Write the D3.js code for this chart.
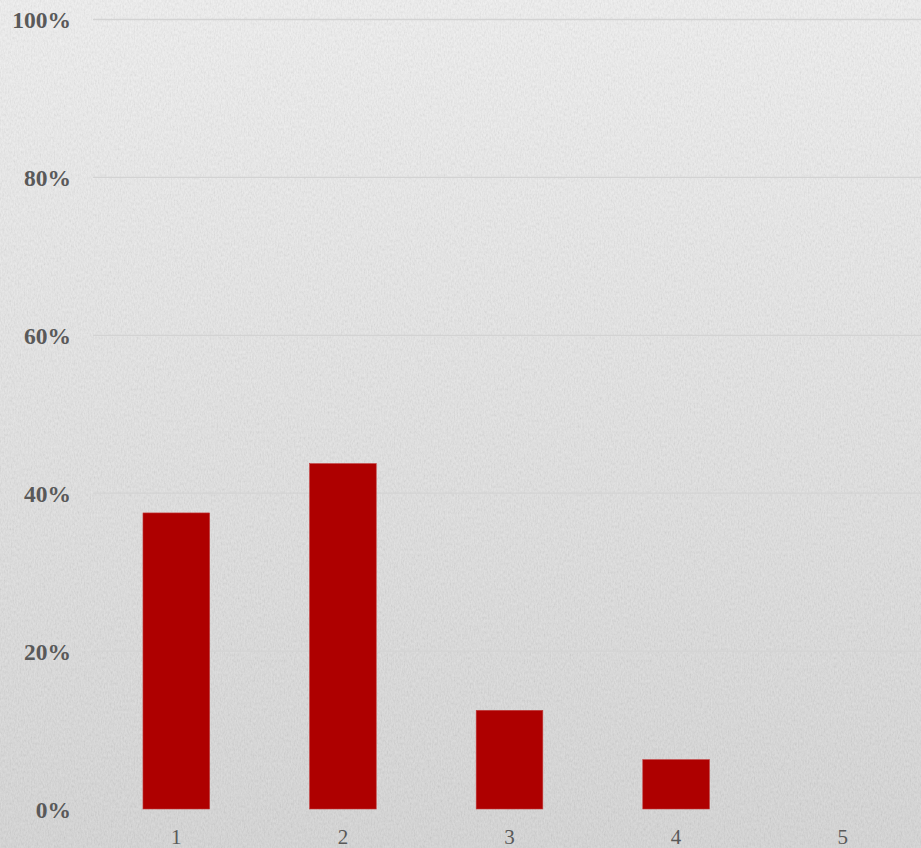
<!DOCTYPE html>
<html><head><meta charset="utf-8">
<script src="https://cdn.jsdelivr.net/npm/d3@7"></script>
<style>html,body{margin:0;padding:0;overflow:hidden;background:#e6e6e6}</style>
</head><body>
<script>
const categories = ["1","2","3","4","5"];
const values = [37.5, 43.75, 12.5, 6.25, 0];
const yTicks = [0, 20, 40, 60, 80, 100];

const W = 921, H = 848;
const svg = d3.select("body").append("svg").attr("width", W).attr("height", H);
const defs = svg.append("defs");
const grad = defs.append("linearGradient").attr("id","bg").attr("x1",0).attr("y1",0).attr("x2",0).attr("y2",1);
grad.append("stop").attr("offset","0%").attr("stop-color","#f1f1f1");
grad.append("stop").attr("offset","100%").attr("stop-color","#d6d6d6");
const filt = defs.append("filter").attr("id","noise").attr("x",0).attr("y",0).attr("width","100%").attr("height","100%");
filt.append("feTurbulence").attr("type","fractalNoise").attr("baseFrequency","0.7 0.35").attr("numOctaves",2).attr("seed",3).attr("result","t");
filt.append("feColorMatrix").attr("in","t").attr("type","matrix")
  .attr("values","1 0 0 0 0  1 0 0 0 0  1 0 0 0 0  0 0 0 0 0.14");
svg.append("rect").attr("width",W).attr("height",H).attr("fill","url(#bg)");
svg.append("rect").attr("width",W).attr("height",H).attr("filter","url(#noise)");

const x = d3.scaleBand().domain(categories).range([93, 926]).paddingInner(0.6).paddingOuter(0.3);
const y = d3.scaleLinear().domain([0,100]).range([809, 19.5]);

// gridlines
svg.append("g").selectAll("line").data(yTicks.filter(d=>d>0)).join("line")
  .attr("x1",93).attr("x2",W).attr("y1",d=>y(d)).attr("y2",d=>y(d))
  .attr("stroke","#d3d3d3").attr("stroke-width",1.3);

// y axis
const yAxis = d3.axisLeft(y).tickValues(yTicks).tickFormat(d=>d+"%").tickSize(0).tickPadding(0);
const gy = svg.append("g").attr("transform","translate(71,0)").call(yAxis);
gy.select(".domain").remove();
gy.selectAll("text").attr("font-family","'Liberation Serif','Times New Roman',serif")
  .attr("font-size",23.5).attr("font-weight","bold").attr("fill","#595959").attr("dy","0.35em");

// bars
svg.append("g").selectAll("rect").data(values).join("rect")
  .attr("x",(d,i)=>x(categories[i])).attr("width",x.bandwidth())
  .attr("y",d=>y(d)).attr("height",d=>y(0)-y(d))
  .attr("fill","#ae0000").attr("stroke","#c23b3b").attr("stroke-width",0.6);

// x axis
const xAxis = d3.axisBottom(x).tickSize(0).tickPadding(0);
const gx = svg.append("g").attr("transform","translate(0,829)").call(xAxis);
gx.select(".domain").remove();
gx.selectAll("text").attr("font-family","'Liberation Serif','Times New Roman',serif")
  .attr("font-size",21).attr("fill","#595959").attr("dy","0.7em");
</script>
</body></html>
